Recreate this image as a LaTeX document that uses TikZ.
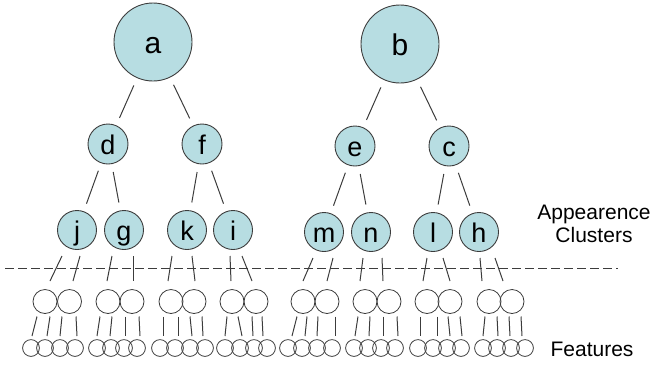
\documentclass[tikz,border=0pt]{standalone}
\usepackage{fontspec}
\setmainfont{Liberation Sans}
\usetikzlibrary{calc}
\definecolor{nodefill}{RGB}{183,221,226}
\definecolor{ink}{RGB}{60,60,60}
\tikzset{
  root/.style={circle,draw=ink,fill=nodefill,line width=0.9pt,minimum size=78pt,inner sep=0pt,
    font=\fontsize{30}{30}\selectfont,text height=22pt,text depth=0pt},
  inner/.style={circle,draw=ink,fill=nodefill,line width=0.9pt,minimum size=40pt,inner sep=0pt,
    font=\fontsize{27}{27}\selectfont,text height=21pt,text depth=0pt},
  clus/.style={inner,minimum size=39pt},
  hid/.style={circle,draw=ink,line width=0.8pt,minimum size=24pt,inner sep=0pt},
  feat/.style={circle,draw=ink,line width=0.8pt,minimum size=16.8pt,inner sep=0pt},
  edge/.style={draw=ink,line width=1pt,shorten <=8pt,shorten >=8pt},
  sedge/.style={draw=ink,line width=1pt},
  lab/.style={font=\fontsize{21}{23}\selectfont,anchor=base,text=black}
}
\begin{document}
\begin{tikzpicture}[x=1pt,y=-1pt]
\useasboundingbox (0,0) rectangle (653,365);
% top
\node[root] (a) at (153,42) {a};
\node[root] (b) at (400,44) {b};
\node[inner] (d) at (108,144) {d};
\node[inner] (f) at (202,144) {f};
\node[inner] (e) at (355,146) {e};
\node[inner] (c) at (449,146) {c};
% clusters
\node[clus] (c1) at (77,230) {j};
\node[clus] (c2) at (124,230) {g};
\node[clus] (c3) at (187,230) {k};
\node[clus] (c4) at (233,230) {i};
\node[clus] (c5) at (324,232) {m};
\node[clus] (c6) at (371,232) {n};
\node[clus] (c7) at (433,232) {l};
\node[clus] (c8) at (479,232) {h};
% tree edges
\draw[edge] (a) -- (d); \draw[edge] (a) -- (f);
\draw[edge] (b) -- (e); \draw[edge] (b) -- (c);
\draw[edge] (d) -- (c1); \draw[edge] (d) -- (c2);
\draw[edge] (f) -- (c3); \draw[edge] (f) -- (c4);
\draw[edge] (e) -- (c5); \draw[edge] (e) -- (c6);
\draw[edge] (c) -- (c7); \draw[edge] (c) -- (c8);
% hidden circles
\foreach \x [count=\i] in {45,69.5,108,132,171,194,232,256,303,327,365,389,427,450,489,512}
  \node[hid] (p\i) at (\x,301.5) {};
% features
\foreach \x [count=\i] in {31,45,60,75,97,111,124,137,160,175,190,205,225,240,254,267,288,302,317,332,354,368,381,395,418,433,447,461,483,497,511,525}
  \node[feat] (q\i) at (\x,348) {};
% cluster -> hidden
\foreach \c/\p/\sx/\ex in {c1/p1/-15/5, c1/p2/3/3.5, c2/p3/-12/-1, c2/p4/9/1,
    c3/p5/-15/-3, c3/p6/5/1, c4/p7/-3/-1, c4/p8/9/-4, c5/p9/-11/0, c5/p10/9/0,
    c6/p11/-8/-5, c6/p12/11/-6, c7/p13/-6/-4, c7/p14/10/0, c8/p15/1/-7, c8/p16/16/-9}
  \draw[sedge] ($(\c)+(\sx,26)$) -- ($(\p)+(\ex,-20.5)$);
% hidden -> features
\foreach \p/\q/\sx/\ex in {p1/q1/-8/1, p1/q2/5/2, p2/q3/-7.5/0, p2/q4/6.5/2,
    p3/q5/-8/0, p3/q6/4/-1, p4/q7/-7/1, p4/q8/7/3,
    p5/q9/-8/3, p5/q10/7/3, p6/q11/-4/2, p6/q12/8/-2,
    p7/q13/-5/0, p7/q14/6/2, p8/q15/-4/-1, p8/q16/6/-4,
    p9/q17/-6/4, p9/q18/4/3, p10/q19/-9/0, p10/q20/8/3,
    p11/q21/-7/1, p11/q22/5/1, p12/q23/-6/2, p12/q24/8/3,
    p13/q25/-7/2, p13/q26/10/4, p14/q27/-2/3, p14/q28/10/1,
    p15/q29/-4/0, p15/q30/8/1, p16/q31/-3/-1, p16/q32/9/-3}
  \draw[sedge] ($(\p)+(\sx,15)$) -- ($(\q)+(\ex,-12)$);
% dashed separator
\coordinate (dl) at (5,268);
\coordinate (dr) at (618,268);
\draw[ink,line width=1pt,dash pattern=on 9pt off 4pt] (dl) -- (dr);
% labels
\node[lab] (l1) at (594,219) {Appearence};
\node[lab] (l2) at (594,242) {Clusters};
\node[lab] (l3) at (592,356) {Features};
\end{tikzpicture}
\end{document}
